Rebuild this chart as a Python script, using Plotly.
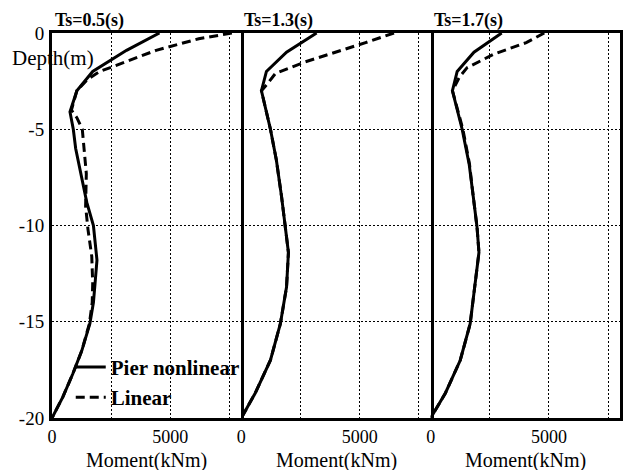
import plotly.graph_objects as go

# ---------------- data ----------------
titles = ["Ts=0.5(s)", "Ts=1.3(s)", "Ts=1.7(s)"]

# Ts=0.5 s
depth_nl_1 = [0, -0.9, -2.0, -3.0, -4.1, -5.0, -6.0, -7.5, -8.8, -10.0, -11.8, -13.0, -14.0, -15.1, -16.5, -17.7, -18.9, -20]
mom_nl_1 = [4540, 3150, 1720, 1050, 760, 900, 1000, 1260, 1470, 1750, 1900, 1820, 1750, 1600, 1260, 880, 460, 0]
depth_lin_1 = [0, -0.3, -0.9, -2.0, -2.4, -3.0, -4.0, -4.4, -5.0, -6.0, -7.3, -9.0, -10.2, -11.6, -13.0, -14.0, -15.1, -16.5, -17.7, -18.9, -20]
mom_lin_1 = [7600, 6200, 4400, 2020, 1510, 1050, 820, 1050, 1280, 1350, 1450, 1420, 1520, 1680, 1720, 1700, 1580, 1260, 880, 460, 0]

# Ts=1.3 s
depth_nl_2 = [0, -1.0, -2.0, -3.0, -5.0, -6.6, -8.5, -10.1, -11.4, -13.2, -15.1, -17.0, -18.7, -20]
mom_nl_2 = [3180, 1910, 1060, 850, 1230, 1480, 1700, 1860, 1990, 1910, 1650, 1230, 590, 0]
depth_lin_2 = [0, -0.5, -1.5, -2.1, -2.7, -3.0, -5.0, -6.6, -8.5, -10.1, -11.4, -13.2, -15.1, -17.0, -18.7, -20]
mom_lin_2 = [6450, 5250, 2700, 1440, 1060, 850, 1230, 1480, 1700, 1860, 1990, 1910, 1650, 1230, 590, 0]

# Ts=1.7 s
depth_nl_3 = [0, -1.0, -2.0, -3.0, -5.0, -6.8, -8.5, -10.1, -11.4, -13.2, -15.1, -17.0, -18.7, -20]
mom_nl_3 = [3000, 1830, 1120, 920, 1330, 1625, 1800, 1960, 2040, 1875, 1670, 1250, 625, 0]
depth_lin_3 = [0, -0.5, -1.1, -1.8, -2.3, -3.0, -5.0, -6.8, -8.5, -10.1, -11.4, -13.2, -15.1, -17.0, -18.7, -20]
mom_lin_3 = [4800, 4040, 2670, 1540, 1210, 920, 1360, 1640, 1800, 1960, 2040, 1875, 1670, 1250, 625, 0]

x_tickvals = [0, 2500, 5000, 7500]
x_ticktext = ["0", "", "5000", ""]
y_tickvals = [0, -5, -10, -15, -20]
y_ticktext = ["0", "-5", "-10", "-15", "-20"]

series = [
    (mom_nl_1, depth_nl_1, mom_lin_1, depth_lin_1),
    (mom_nl_2, depth_nl_2, mom_lin_2, depth_lin_2),
    (mom_nl_3, depth_nl_3, mom_lin_3, depth_lin_3),
]

FONT = "Liberation Serif, Times New Roman, serif"

fig = go.Figure()
for i, (mx, my, lx, ly) in enumerate(series):
    xa = "x" if i == 0 else f"x{i+1}"
    ya = "y" if i == 0 else f"y{i+1}"
    fig.add_trace(go.Scatter(x=mx, y=my, mode="lines", xaxis=xa, yaxis=ya,
                             line=dict(color="black", width=3),
                             name="<b>Pier nonlinear</b>", showlegend=(i == 0)))
    fig.add_trace(go.Scatter(x=lx, y=ly, mode="lines", xaxis=xa, yaxis=ya,
                             line=dict(color="black", width=3, dash="9px,5px"),
                             name="<b>Linear</b>", showlegend=(i == 0)))

domains = [[0, 1/3], [1/3, 2/3], [2/3, 1]]
layout = dict(
    width=630, height=470,
    margin=dict(l=52, r=10, t=33, b=52),
    paper_bgcolor="white", plot_bgcolor="white",
    font=dict(family=FONT, size=19, color="black"),
    showlegend=True,
    legend=dict(x=0.033, y=0.185, xanchor="left", yanchor="top",
                bgcolor="rgba(0,0,0,0)", font=dict(size=21, family=FONT),
                tracegroupgap=0, itemwidth=30),
)
for i in range(3):
    xk = "xaxis" if i == 0 else f"xaxis{i+1}"
    yk = "yaxis" if i == 0 else f"yaxis{i+1}"
    layout[xk] = dict(domain=domains[i], range=[0, 8000], anchor="y" if i == 0 else f"y{i+1}",
                      tickvals=x_tickvals, ticktext=x_ticktext, ticks="",
                      showline=True, linecolor="black", linewidth=3, mirror=True,
                      showgrid=True, gridcolor="black", gridwidth=1, griddash="2px,2px",
                      zeroline=False, ticklabelstandoff=0,
                      tickfont=dict(size=18, family=FONT))
    layout[yk] = dict(range=[-20, 0], anchor="x" if i == 0 else f"x{i+1}",
                      tickvals=y_tickvals, ticktext=y_ticktext, ticks="",
                      showticklabels=(i == 0),
                      showline=True, linecolor="black", linewidth=3,
                      mirror=True if i == 0 else False,
                      side="left" if i == 0 else "right",
                      showgrid=True, gridcolor="black", gridwidth=1, griddash="2px,2px",
                      zeroline=False, ticklabelstandoff=1,
                      tickfont=dict(size=19, family=FONT))
    if i > 0:
        layout[yk]["matches"] = "y"
fig.update_layout(**layout)

annotations = []
for i, t in enumerate(titles):
    annotations.append(dict(text=f"<b>{t}</b>", xref="paper", yref="paper",
                            x=domains[i][0] + 0.002, y=1.033, xanchor="left", yanchor="middle",
                            showarrow=False, font=dict(size=18, family=FONT)))
    annotations.append(dict(text="Moment(kNm)", xref="paper", yref="paper",
                            x=(domains[i][0] + domains[i][1]) / 2, y=-0.11,
                            xanchor="center", yanchor="middle",
                            showarrow=False, font=dict(size=20, family=FONT)))
annotations.append(dict(text="Depth(m)", xref="paper", yref="paper",
                        x=-0.074, y=0.935, xanchor="left", yanchor="middle",
                        showarrow=False, font=dict(size=21, family=FONT)))
fig.update_layout(annotations=annotations)

fig.write_html("out.html")
